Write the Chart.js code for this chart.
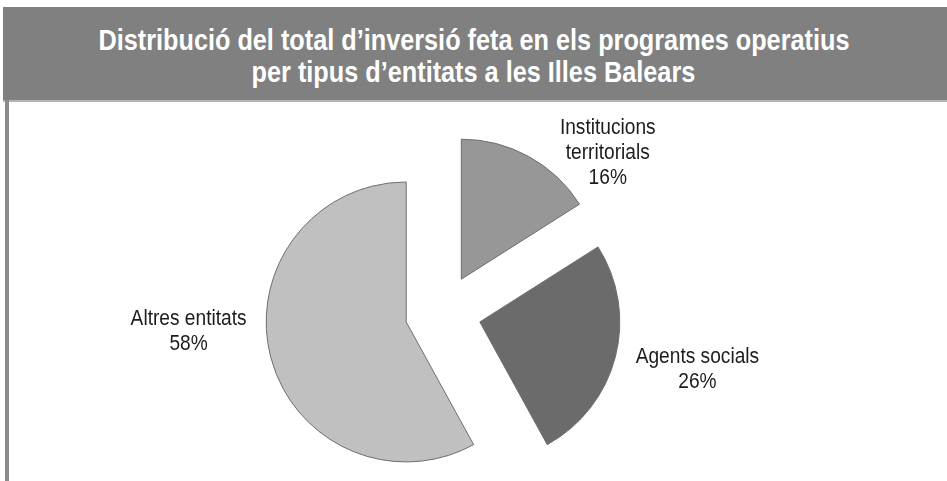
<!DOCTYPE html>
<html>
<head>
<meta charset="utf-8">
<script src="https://cdn.jsdelivr.net/npm/chart.js@4/dist/chart.umd.min.js"></script>
<style>
  html, body { margin: 0; padding: 0; background: #fff; }
  #wrap { position: relative; width: 947px; height: 481px; overflow: hidden; background: #fff; }
  #c { position: absolute; left: 0; top: 0; }
  #banner { position: absolute; left: 3px; top: 7px; width: 944px; height: 93px; background: #808080; }
  #sep { position: absolute; left: 3px; top: 100px; width: 944px; height: 2px; background: #b4b4b4; }
  #leftBorder { position: absolute; left: 5px; top: 100px; width: 4px; height: 381px; background: #8c8c8c; }
  .tline { position: absolute; left: 0; width: 947px; text-align: center; color: #fff;
           font-family: "Liberation Sans", Arial, sans-serif; font-weight: bold; font-size: 30px;
           line-height: 34px; white-space: nowrap; }
  .tline span { display: inline-block; transform-origin: 50% 50%; }
</style>
</head>
<body>
<div id="wrap">
  <canvas id="c" width="947" height="481"></canvas>
  <div id="banner"></div>
  <div id="sep"></div>
  <div id="leftBorder"></div>
  <div class="tline" id="t1" style="top:23px"><span>Distribució del total d’inversió feta en els programes operatius</span></div>
  <div class="tline" id="t2" style="top:55px"><span>per tipus d’entitats a les Illes Balears</span></div>
</div>
<script>
// ---- data ----
const categories = ['Institucions territorials', 'Agents socials', 'Altres entitats'];
const labelLines = [['Institucions', 'territorials'], ['Agents socials'], ['Altres entitats']];
const values = [16, 26, 58];
const percentLabels = ['16%', '26%', '58%'];
const sliceColors = ['#979797', '#6b6b6b', '#c0c0c0'];

// ---- title fit (condensed look) ----
(function () {
  const s1 = document.querySelector('#t1 span');
  const s2 = document.querySelector('#t2 span');
  const w = s1.getBoundingClientRect().width;
  const k = 751 / w;
  s1.style.transform = 'scaleX(' + k + ')';
  s2.style.transform = 'scaleX(' + k + ')';
})();

// ---- explode plugin: move each slice outward along its own mid-angle ----
const explodeSlices = {
  id: 'explodeSlices',
  afterDatasetUpdate(chart, args, opts) {
    const meta = args.meta;
    meta.data.forEach((arc, i) => {
      const mid = (arc.startAngle + arc.endAngle) / 2;
      const d = opts.distance[i] || 0;
      arc.x += Math.cos(mid) * d;
      arc.y += Math.sin(mid) * d;
    });
  }
};

// ---- label plugin: positions derived from arc geometry ----
const sliceLabels = {
  id: 'sliceLabels',
  afterDatasetsDraw(chart, args, opts) {
    const ctx = chart.ctx;
    const meta = chart.getDatasetMeta(0);
    meta.data.forEach((arc, i) => {
      const p = arc.getProps(['x', 'y', 'startAngle', 'endAngle', 'outerRadius'], true);
      const mid = (p.startAngle + p.endAngle) / 2;
      const ax = p.x + Math.cos(mid) * p.outerRadius + opts.nudge[i][0];
      const ay = p.y + Math.sin(mid) * p.outerRadius + opts.nudge[i][1];
      const lines = labelLines[i].concat([percentLabels[i]]);
      const lh = opts.lineHeight;
      const y0 = ay - (lines.length - 1) * lh / 2;
      ctx.save();
      ctx.fillStyle = opts.color;
      ctx.font = opts.font;
      ctx.textAlign = 'center';
      ctx.textBaseline = 'middle';
      lines.forEach((ln, j) => {
        ctx.save();
        ctx.translate(ax, y0 + j * lh);
        ctx.scale(opts.condense, 1);
        ctx.fillText(ln, 0, 0);
        ctx.restore();
      });
      ctx.restore();
    });
  }
};

new Chart(document.getElementById('c'), {
  type: 'pie',
  data: {
    labels: categories,
    datasets: [{
      data: values,
      backgroundColor: sliceColors,
      borderColor: '#6e6e6e',
      borderWidth: 1,
      hoverOffset: 0
    }]
  },
  options: {
    responsive: false,
    animation: false,
    events: [],
    radius: 140,
    layout: { padding: { left: 0, right: 61, top: 144, bottom: 0 } },
    plugins: {
      legend: { display: false },
      title: { display: false },
      tooltip: { enabled: false },
      explodeSlices: { distance: [38, 38, 38] },
      sliceLabels: {
        nudge: [[79, -4], [82, 13], [-82, -25]],
        lineHeight: 25,
        color: '#1c1c1c',
        font: '22px "Liberation Sans", Arial, sans-serif',
        condense: 0.87
      }
    }
  },
  plugins: [explodeSlices, sliceLabels]
});
</script>
</body>
</html>
